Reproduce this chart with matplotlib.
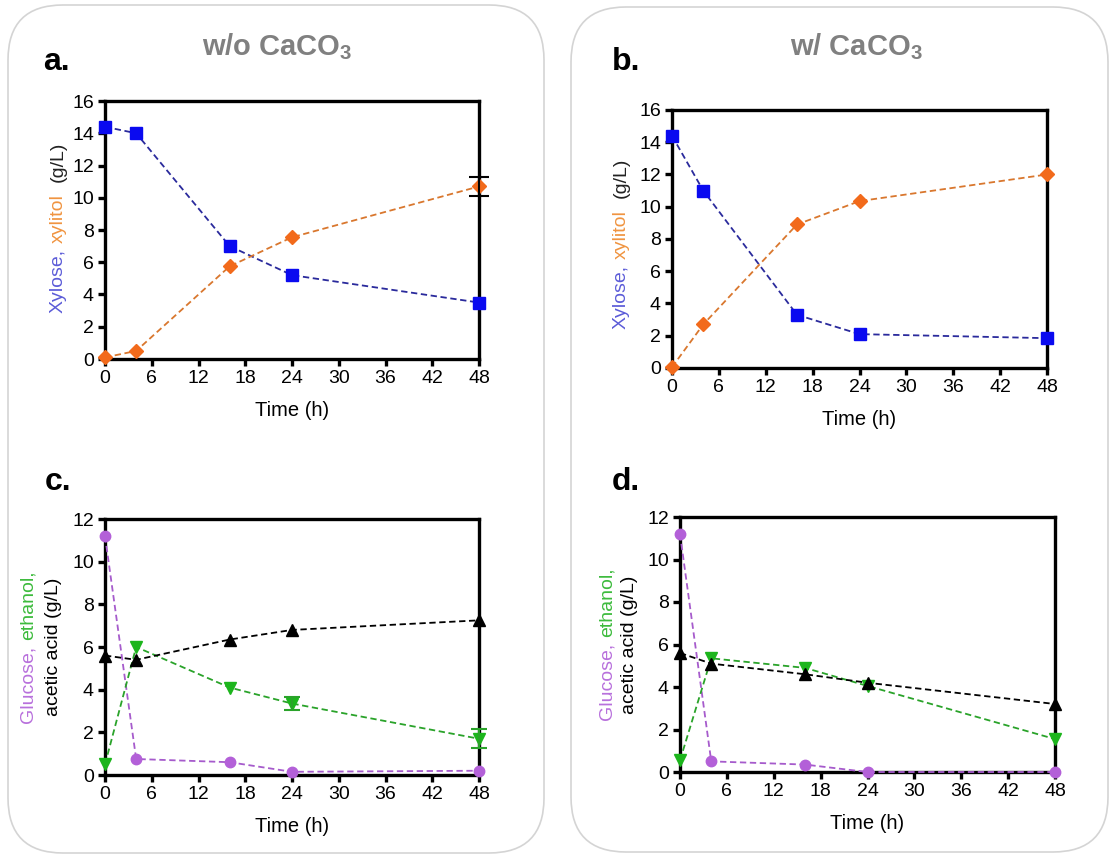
import matplotlib
matplotlib.use("Agg")
import matplotlib.pyplot as plt
from matplotlib.patches import FancyBboxPatch
from matplotlib.text import Annotation
from matplotlib.transforms import IdentityTransform

plt.rcParams['font.family'] = ['Liberation Sans', 'DejaVu Sans']
plt.rcParams['mathtext.fontset'] = 'custom'
plt.rcParams['mathtext.rm'] = 'Liberation Sans'
plt.rcParams['mathtext.bf'] = 'Liberation Sans:bold'

# sampling times (h)
time_h = [0, 4, 16, 24, 48]

# w/o CaCO3
xylose_a = [14.4, 14.0, 7.0, 5.2, 3.5]
xylitol_a = [0.1, 0.5, 5.75, 7.55, 10.7]
xylitol_a_err = [0, 0, 0, 0, 0.6]
glucose_c = [11.2, 0.75, 0.6, 0.15, 0.2]
ethanol_c = [0.5, 6.0, 4.1, 3.35, 1.7]
ethanol_c_err = [0, 0, 0, 0.32, 0.45]
acetic_c = [5.6, 5.4, 6.35, 6.8, 7.25]

# w/ CaCO3
xylose_b = [14.4, 11.0, 3.3, 2.1, 1.85]
xylitol_b = [0.05, 2.7, 8.9, 10.35, 12.0]
glucose_d = [11.2, 0.5, 0.35, 0.0, 0.0]
ethanol_d = [0.55, 5.35, 4.9, 4.05, 1.55]
acetic_d = [5.6, 5.1, 4.6, 4.2, 3.2]

x_ticks = [0, 6, 12, 18, 24, 30, 36, 42, 48]

BLUE, BLUE_LINE, BLUE_LABEL = '#0a0af0', '#2a2a9c', '#5c5cd8'
ORANGE, ORANGE_LINE, ORANGE_LABEL = '#f26a1b', '#d9772e', '#f09440'
PURPLE, PURPLE_LINE, PURPLE_LABEL = '#b360d8', '#a65bcc', '#b870dc'
GREEN, GREEN_LINE, GREEN_LABEL = '#1cb51c', '#2aa32a', '#3dbb3d'
DASH = (0, (3.5, 2))
FS = 14

W, H = 1110, 855
fig = plt.figure(figsize=(W / 100, H / 100), dpi=100)

# rounded panels behind each column
for x0, y0, x1, y1 in [(8, 5, 544, 853), (571, 7, 1108, 852)]:
    fig.patches.append(FancyBboxPatch(
        (x0, H - y1), x1 - x0, y1 - y0,
        boxstyle="round,pad=0,rounding_size=55",
        transform=IdentityTransform(), facecolor='none',
        edgecolor='#d4d4d4', linewidth=1.2, zorder=0))


def px_axes(left, top, right, bottom):
    ax = fig.add_axes([left / W, 1 - bottom / H, (right - left) / W, (bottom - top) / H])
    ax.patch.set_alpha(0)
    return ax


def style(ax, ymax):
    ax.set_xlim(0, 48)
    ax.set_ylim(0, ymax)
    ax.set_xticks(x_ticks)
    ax.set_yticks(range(0, ymax + 1, 2))
    for sp in ax.spines.values():
        sp.set_linewidth(2.4)
    ax.tick_params(direction='out', length=5, width=2.4, labelsize=FS, pad=3)
    ax.set_xlabel("Time (h)", fontsize=14.5, labelpad=10)


def series(ax, y, line_c, mk_c, marker, ms):
    ax.plot(time_h, y, ls=DASH, lw=1.3, color=line_c, zorder=3, clip_on=False)
    ax.plot(time_h, y, ls='none', marker=marker, ms=ms, color=mk_c,
            mec=mk_c, zorder=4, clip_on=False)


def word_column(x, y_bottom, pieces):
    # rotated label built from differently coloured words, stacked upward
    prev = None
    for txt, col, gap in pieces:
        if prev is None:
            prev = fig.text(x / W, 1 - y_bottom / H, txt, color=col, rotation=90,
                            fontsize=FS, ha='center', va='bottom')
        else:
            prev = fig.add_artist(Annotation(
                txt, xy=(0.5, 1), xycoords=prev, xytext=(0, gap),
                textcoords='offset points', color=col, rotation=90,
                fontsize=FS, ha='center', va='bottom'))


# panel a
ax_a = px_axes(105, 101, 479, 359)
style(ax_a, 16)
series(ax_a, xylose_a, BLUE_LINE, BLUE, 's', 8)
series(ax_a, xylitol_a, ORANGE_LINE, ORANGE, 'D', 7)
ax_a.errorbar([48], [xylitol_a[-1]], yerr=[xylitol_a_err[-1]], fmt='none',
              ecolor='black', elinewidth=1.5, capsize=7, capthick=1.5,
              zorder=5, clip_on=False)
word_column(58, 313, [("Xylose,", BLUE_LABEL, 0), ("xylitol", ORANGE_LABEL, 4),
                      ("(g/L)", '#222222', 9)])

# panel b
ax_b = px_axes(672, 110, 1047, 368)
style(ax_b, 16)
series(ax_b, xylose_b, BLUE_LINE, BLUE, 's', 8)
series(ax_b, xylitol_b, ORANGE_LINE, ORANGE, 'D', 7)
word_column(621, 329, [("Xylose,", BLUE_LABEL, 0), ("xylitol", ORANGE_LABEL, 4),
                       ("(g/L)", '#222222', 9)])

# panel c
ax_c = px_axes(105, 519, 479, 775)
style(ax_c, 12)
series(ax_c, glucose_c, PURPLE_LINE, PURPLE, 'o', 7.5)
series(ax_c, ethanol_c, GREEN_LINE, GREEN, 'v', 8)
series(ax_c, acetic_c, 'black', 'black', '^', 8)
ax_c.errorbar(time_h[3:], ethanol_c[3:], yerr=ethanol_c_err[3:], fmt='none',
              ecolor=GREEN_LINE, elinewidth=1.5, capsize=6, capthick=1.5,
              zorder=5, clip_on=False)
word_column(28, 723, [("Glucose,", PURPLE_LABEL, 0), ("ethanol,", GREEN_LABEL, 4)])
fig.text(54 / W, 1 - 647 / H, "acetic acid (g/L)", rotation=90, fontsize=FS,
         ha='center', va='center', color='black')

# panel d
ax_d = px_axes(680, 517, 1055, 772)
style(ax_d, 12)
series(ax_d, glucose_d, PURPLE_LINE, PURPLE, 'o', 7.5)
series(ax_d, ethanol_d, GREEN_LINE, GREEN, 'v', 8)
series(ax_d, acetic_d, 'black', 'black', '^', 8)
word_column(607, 720, [("Glucose,", PURPLE_LABEL, 0), ("ethanol,", GREEN_LABEL, 4)])
fig.text(630 / W, 1 - 645 / H, "acetic acid (g/L)", rotation=90, fontsize=FS,
         ha='center', va='center', color='black')

# column headings and panel letters
fig.text(277 / W, 1 - 47 / H, r"w/o CaCO$_\mathbf{3}$", fontsize=21, fontweight='bold',
         color='#808080', ha='center', va='center')
fig.text(856 / W, 1 - 47 / H, r"w/ CaCO$_\mathbf{3}$", fontsize=21, fontweight='bold',
         color='#808080', ha='center', va='center')
for letter, x, y in [("a.", 43, 62), ("b.", 612, 62), ("c.", 45, 482), ("d.", 612, 482)]:
    fig.text(x / W, 1 - y / H, letter, fontsize=23, fontweight='bold',
             color='black', ha='left', va='center')

fig.savefig("out.png", dpi=100)
